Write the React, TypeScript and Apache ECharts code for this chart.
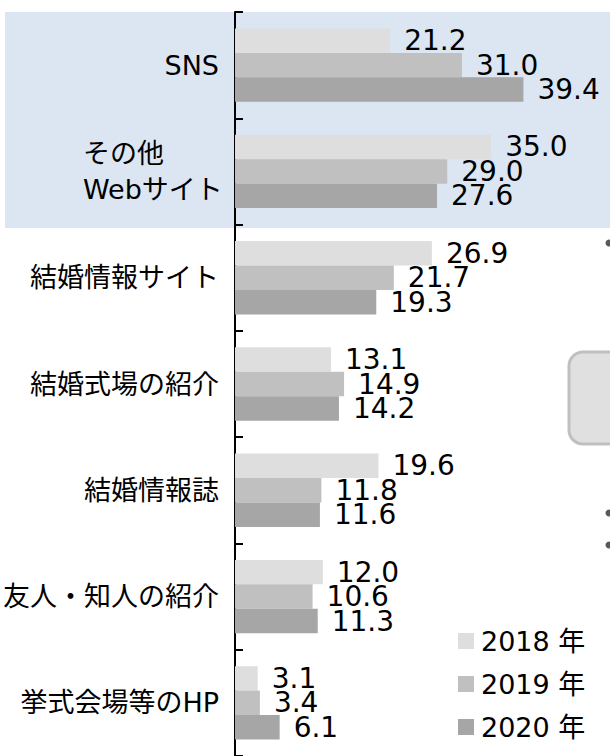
import React, { useEffect, useRef } from "react";
import * as echarts from "echarts";

const categories = [
  "SNS",
  "その他\nWebサイト",
  "結婚情報サイト",
  "結婚式場の紹介",
  "結婚情報誌",
  "友人・知人の紹介",
  "挙式会場等のHP",
];
const seriesNames = ["2018 年", "2019 年", "2020 年"];
const values2018 = [21.2, 35.0, 26.9, 13.1, 19.6, 12.0, 3.1];
const values2019 = [31.0, 29.0, 21.7, 14.9, 11.8, 10.6, 3.4];
const values2020 = [39.4, 27.6, 19.3, 14.2, 11.6, 11.3, 6.1];
const colors = ["#dedede", "#c0c0c0", "#a6a6a6"];

const FONT = "'DejaVu Sans', 'Noto Sans CJK JP', sans-serif";

export default function App() {
  const ref = useRef<HTMLDivElement>(null);
  useEffect(() => {
    document.body.style.margin = "0";
    if (!ref.current) return;
    const chart = echarts.init(ref.current, null, { renderer: "svg" });
    const allValues = [values2018, values2019, values2020];
    chart.setOption({
      animation: false,
      backgroundColor: "#ffffff",
      textStyle: { fontFamily: FONT },
      grid: { left: 230, right: 9, top: 12, bottom: 0, containLabel: false },
      xAxis: {
        type: "value",
        min: 0,
        max: 50,
        show: false,
        splitLine: { show: false },
      },
      yAxis: {
        type: "category",
        inverse: true,
        data: categories,
        axisLine: { show: true, lineStyle: { color: "#000", width: 2 } },
        axisTick: { show: true, inside: true, length: 8, lineStyle: { color: "#000", width: 2 } },
        axisLabel: {
          fontSize: 27,
          color: "#000",
          margin: 16,
          fontFamily: FONT,
          formatter: (v: string) => {
            if (v.indexOf("\n") >= 0) {
              return v
                .split("\n")
                .map((s) => "{l|" + s + "}")
                .join("\n");
            }
            return v;
          },
          rich: {
            l: {
              width: 136,
              align: "left",
              fontSize: 27,
              lineHeight: 36,
              color: "#000",
              fontFamily: FONT,
            },
          },
        },
        splitLine: { show: false },
      },
      legend: {
        orient: "vertical",
        left: 453,
        top: 622,
        itemWidth: 16,
        itemHeight: 16,
        itemGap: 15,
        icon: "rect",
        data: seriesNames,
        textStyle: { fontSize: 27, lineHeight: 28, color: "#000", fontFamily: FONT, padding: [0, 0, 0, 2] },
      },
      graphic: {
        elements: [
          {
            type: "rect",
            z: -10,
            shape: { x: 5, y: 12, width: 605, height: 216 },
            style: { fill: "#dce6f2" },
            silent: true,
          },
          {
            type: "rect",
            shape: { x: 569, y: 352, width: 70, height: 92, r: 14 },
            style: { fill: "#e0e0e0", stroke: "#c0c0c0", lineWidth: 3 },
            silent: true,
          },
          { type: "circle", shape: { cx: 609, cy: 243, r: 3.5 }, style: { fill: "#595959" } },
          { type: "circle", shape: { cx: 609, cy: 513, r: 3.5 }, style: { fill: "#595959" } },
          { type: "circle", shape: { cx: 609, cy: 545, r: 3.5 }, style: { fill: "#595959" } },
        ],
      },
      series: seriesNames.map((name, i) => ({
        name,
        type: "bar",
        data: allValues[i],
        barGap: "0%",
        barCategoryGap: "31%",
        itemStyle: { color: colors[i] },
        label: {
          show: true,
          position: "right",
          distance: 14,
          fontSize: 28,
          color: "#000",
          fontFamily: FONT,
          formatter: (p: any) => Number(p.value).toFixed(1),
        },
      })),
    });
    return () => chart.dispose();
  }, []);
  return <div ref={ref} style={{ width: 610, height: 756 }} />;
}
